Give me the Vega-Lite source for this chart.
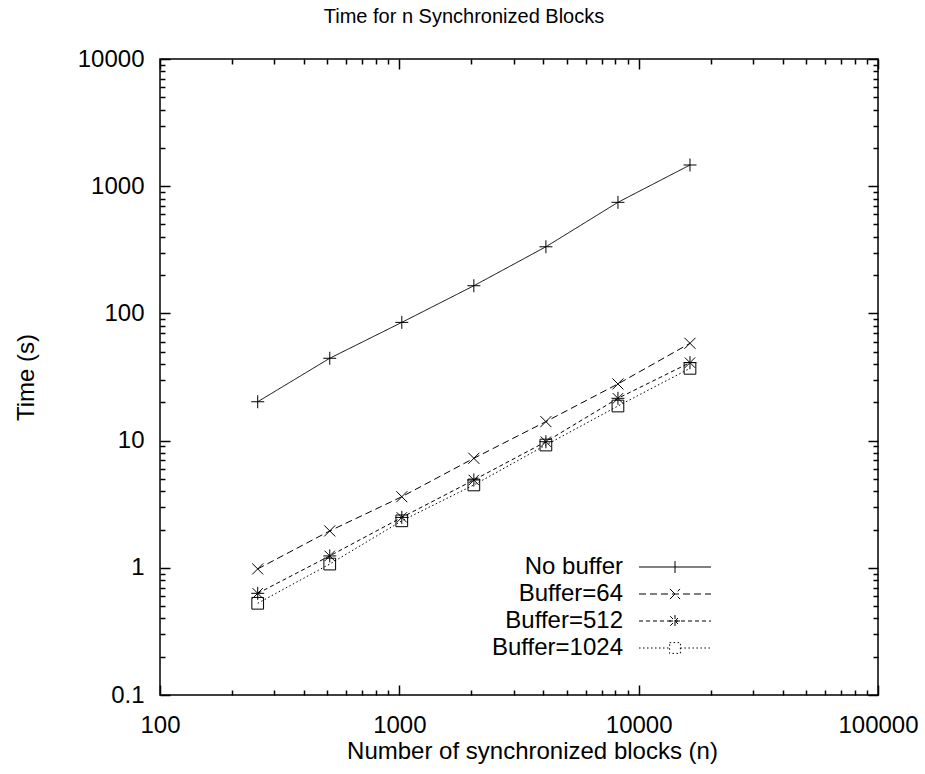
{
  "$schema": "https://vega.github.io/schema/vega-lite/v6.json",
  "width": 718,
  "height": 636,
  "autosize": {"type": "none"},
  "padding": {"left": 160, "top": 59, "right": 47, "bottom": 79},
  "background": "white",
  "config": {
    "view": {"stroke": "black", "strokeWidth": 1.5},
    "font": "Liberation Sans"
  },
  "title": {
    "text": "Time for n Synchronized Blocks",
    "fontSize": 20,
    "font": "Liberation Sans",
    "fontWeight": "normal",
    "color": "black",
    "offset": 17,
    "dx": -55,
    "dy": -3
  },
  "data": {
    "values": [
      {"n": 256, "t": 20.2, "series": "No buffer"},
      {"n": 512, "t": 44.4, "series": "No buffer"},
      {"n": 1024, "t": 85, "series": "No buffer"},
      {"n": 2048, "t": 165, "series": "No buffer"},
      {"n": 4096, "t": 334, "series": "No buffer"},
      {"n": 8192, "t": 747, "series": "No buffer"},
      {"n": 16384, "t": 1468, "series": "No buffer"},
      {"n": 256, "t": 0.98, "series": "Buffer=64"},
      {"n": 512, "t": 1.95, "series": "Buffer=64"},
      {"n": 1024, "t": 3.62, "series": "Buffer=64"},
      {"n": 2048, "t": 7.26, "series": "Buffer=64"},
      {"n": 4096, "t": 14.1, "series": "Buffer=64"},
      {"n": 8192, "t": 27.9, "series": "Buffer=64"},
      {"n": 16384, "t": 58.2, "series": "Buffer=64"},
      {"n": 256, "t": 0.63, "series": "Buffer=512"},
      {"n": 512, "t": 1.24, "series": "Buffer=512"},
      {"n": 1024, "t": 2.49, "series": "Buffer=512"},
      {"n": 2048, "t": 4.9, "series": "Buffer=512"},
      {"n": 4096, "t": 9.8, "series": "Buffer=512"},
      {"n": 8192, "t": 21.5, "series": "Buffer=512"},
      {"n": 16384, "t": 41, "series": "Buffer=512"},
      {"n": 256, "t": 0.526, "series": "Buffer=1024"},
      {"n": 512, "t": 1.07, "series": "Buffer=1024"},
      {"n": 1024, "t": 2.34, "series": "Buffer=1024"},
      {"n": 2048, "t": 4.48, "series": "Buffer=1024"},
      {"n": 4096, "t": 9.23, "series": "Buffer=1024"},
      {"n": 8192, "t": 18.7, "series": "Buffer=1024"},
      {"n": 16384, "t": 37, "series": "Buffer=1024"}
    ]
  },
  "resolve": {"axis": {"x": "independent", "y": "independent"}},
  "layer": [
    {
      "mark": {"type": "line", "color": "black", "strokeWidth": 1},
      "encoding": {
        "x": {
          "field": "n", "type": "quantitative",
          "scale": {"type": "log", "domain": [100, 100000], "nice": false},
          "axis": {
            "orient": "bottom",
            "values": [100,200,300,400,500,600,700,800,900,1000,2000,3000,4000,5000,6000,7000,8000,9000,10000,20000,30000,40000,50000,60000,70000,80000,90000,100000],
            "title": "Number of synchronized blocks (n)",
            "domain": false, "grid": false,
            "tickSize": {"condition": {"test": "abs(log(datum.value)/LN10 - round(log(datum.value)/LN10)) < 0.001", "value": -10}, "value": -5},
            "tickColor": "black", "tickWidth": 1.5,
            "labelExpr": "abs(log(datum.value)/LN10 - round(log(datum.value)/LN10)) < 0.001 ? format(datum.value, '~g') : ''",
            "labelFontSize": 24, "labelFont": "Liberation Sans", "labelColor": "black",
            "labelPadding": 28, "labelBaseline": "top", "labelAlign": "center",
            "labelFlush": false, "labelOverlap": false, "labelBound": false,
            "titleFontSize": 24, "titleFont": "Liberation Sans", "titleFontWeight": "normal", "titleColor": "black",
            "titleX": 372, "titleY": 63, "titleBaseline": "alphabetic", "titleAlign": "center"
          }
        },
        "y": {
          "field": "t", "type": "quantitative",
          "scale": {"type": "log", "domain": [0.1, 10000], "nice": false},
          "axis": {
            "orient": "left",
            "values": [0.1,0.2,0.3,0.4,0.5,0.6,0.7,0.8,0.9,1,2,3,4,5,6,7,8,9,10,20,30,40,50,60,70,80,90,100,200,300,400,500,600,700,800,900,1000,2000,3000,4000,5000,6000,7000,8000,9000,10000],
            "title": "Time (s)",
            "domain": false, "grid": false,
            "tickSize": {"condition": {"test": "abs(log(datum.value)/LN10 - round(log(datum.value)/LN10)) < 0.001", "value": -10}, "value": -5},
            "tickColor": "black", "tickWidth": 1.5,
            "labelExpr": "abs(log(datum.value)/LN10 - round(log(datum.value)/LN10)) < 0.001 ? format(datum.value, '~g') : ''",
            "labelFontSize": 24, "labelFont": "Liberation Sans", "labelColor": "black",
            "labelPadding": 26, "labelBaseline": "middle", "labelAlign": "right",
            "labelFlush": false, "labelOverlap": false, "labelBound": false,
            "titleFontSize": 24, "titleFont": "Liberation Sans", "titleFontWeight": "normal", "titleColor": "black",
            "titleAngle": -90, "titleX": -127, "titleY": 318, "titleBaseline": "alphabetic", "titleAlign": "center"
          }
        },
        "strokeDash": {
          "field": "series", "type": "nominal",
          "scale": {
            "domain": ["No buffer", "Buffer=64", "Buffer=512", "Buffer=1024"],
            "range": [[1, 0], [7, 4], [4, 3], [1.5, 2.5]]
          },
          "legend": {
            "orient": "none",
            "legendX": 503,
            "legendY": 496,
            "title": null,
            "padding": 0,
            "symbolSize": 144,
            "symbolStrokeWidth": 1,
            "symbolStrokeColor": "black",
            "labelFontSize": 24,
            "labelFont": "Liberation Sans",
            "labelColor": "black",
            "labelAlign": "right",
            "labelOffset": -64,
            "labelLimit": 400,
            "rowPadding": 3,
            "encode": {
              "symbols": {
                "update": {
                  "shape": {"signal": "datum.value === 'No buffer' ? 'M-6,0H6M0,-1V1' : datum.value === 'Buffer=64' ? 'M-6,0H6M-0.85,-0.85L0.85,0.85M-0.85,0.85L0.85,-0.85' : datum.value === 'Buffer=512' ? 'M-6,0H6M-1,0H1M0,-1V1M-0.8,-0.8L0.8,0.8M-0.8,0.8L0.8,-0.8' : 'M-6,0H-0.9M0.9,0H6M-0.9,-0.9H0.9V0.9H-0.9Z'"},
                  "fill": {"value": "transparent"},
                  "stroke": {"value": "black"}
                }
              }
            }
          }
        }
      }
    },
    {
      "transform": [{"filter": {"field": "series", "equal": "No buffer"}}],
      "mark": {"type": "point", "filled": false, "stroke": "black", "strokeWidth": 1, "size": 169, "opacity": 1, "shape": "M-1,0H1M0,-1V1"},
      "encoding": {
        "x": {"field": "n", "type": "quantitative", "axis": null},
        "y": {"field": "t", "type": "quantitative", "axis": null}
      }
    },
    {
      "transform": [{"filter": {"field": "series", "equal": "Buffer=64"}}],
      "mark": {"type": "point", "filled": false, "stroke": "black", "strokeWidth": 1, "size": 169, "opacity": 1, "shape": "M-0.85,-0.85L0.85,0.85M-0.85,0.85L0.85,-0.85"},
      "encoding": {
        "x": {"field": "n", "type": "quantitative", "axis": null},
        "y": {"field": "t", "type": "quantitative", "axis": null}
      }
    },
    {
      "transform": [{"filter": {"field": "series", "equal": "Buffer=512"}}],
      "mark": {"type": "point", "filled": false, "stroke": "black", "strokeWidth": 1, "size": 169, "opacity": 1, "shape": "M-1,0H1M0,-1V1M-0.8,-0.8L0.8,0.8M-0.8,0.8L0.8,-0.8"},
      "encoding": {
        "x": {"field": "n", "type": "quantitative", "axis": null},
        "y": {"field": "t", "type": "quantitative", "axis": null}
      }
    },
    {
      "transform": [{"filter": {"field": "series", "equal": "Buffer=1024"}}],
      "mark": {"type": "point", "filled": false, "stroke": "black", "strokeWidth": 1, "size": 169, "opacity": 1, "shape": "M-0.9,-0.9H0.9V0.9H-0.9Z"},
      "encoding": {
        "x": {"field": "n", "type": "quantitative", "axis": null},
        "y": {"field": "t", "type": "quantitative", "axis": null}
      }
    },
    {
      "mark": {"type": "point", "opacity": 0},
      "encoding": {
        "x": {
          "field": "n", "type": "quantitative",
          "axis": {
            "orient": "top",
            "values": [100,200,300,400,500,600,700,800,900,1000,2000,3000,4000,5000,6000,7000,8000,9000,10000,20000,30000,40000,50000,60000,70000,80000,90000,100000],
            "title": null, "labels": false, "domain": false, "grid": false,
            "tickSize": {"condition": {"test": "abs(log(datum.value)/LN10 - round(log(datum.value)/LN10)) < 0.001", "value": -10}, "value": -5},
            "tickColor": "black", "tickWidth": 1.5
          }
        },
        "y": {
          "field": "t", "type": "quantitative",
          "axis": {
            "orient": "right",
            "values": [0.1,0.2,0.3,0.4,0.5,0.6,0.7,0.8,0.9,1,2,3,4,5,6,7,8,9,10,20,30,40,50,60,70,80,90,100,200,300,400,500,600,700,800,900,1000,2000,3000,4000,5000,6000,7000,8000,9000,10000],
            "title": null, "labels": false, "domain": false, "grid": false,
            "tickSize": {"condition": {"test": "abs(log(datum.value)/LN10 - round(log(datum.value)/LN10)) < 0.001", "value": -10}, "value": -5},
            "tickColor": "black", "tickWidth": 1.5
          }
        }
      }
    }
  ]
}
